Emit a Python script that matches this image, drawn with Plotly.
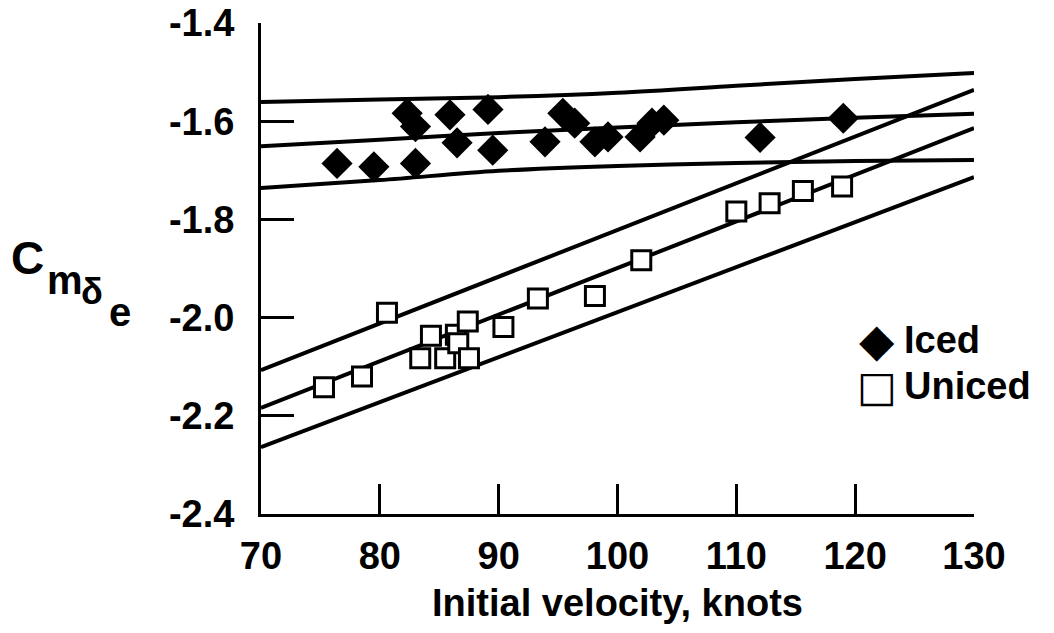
import plotly.graph_objects as go

# Elevator control power vs. initial velocity, iced and uniced tail
iced_v = [76.4, 79.5, 82.3, 83.0, 83.0, 85.9, 86.5, 89.1, 89.5, 93.9,
          95.4, 96.4, 98.1, 99.2, 101.9, 102.9, 103.9, 112.0, 119.0]
iced_cm = [-1.686, -1.693, -1.584, -1.611, -1.686, -1.587, -1.644, -1.576, -1.659, -1.642,
           -1.584, -1.604, -1.642, -1.632, -1.632, -1.604, -1.598, -1.633, -1.594]

uniced_v = [75.3, 78.5, 80.6, 83.4, 84.3, 85.5, 86.4, 86.6, 87.4, 87.5,
            90.4, 93.3, 98.1, 102.0, 110.0, 112.8, 115.6, 118.9]
uniced_cm = [-2.142, -2.120, -1.990, -2.083, -2.037, -2.083, -2.035, -2.052, -2.008, -2.083,
             -2.019, -1.961, -1.956, -1.883, -1.784, -1.767, -1.742, -1.733]

# Fitted curves with their bounds
iced_fit_v = [70, 80, 90, 100, 110, 120, 130]
iced_upper = [-1.561, -1.556, -1.551, -1.542, -1.528, -1.514, -1.502]
iced_mean = [-1.651, -1.638, -1.624, -1.613, -1.602, -1.593, -1.585]
iced_lower = [-1.736, -1.720, -1.701, -1.691, -1.685, -1.681, -1.679]

uniced_fit_v = [70, 130]
uniced_upper = [-2.107, -1.536]
uniced_mean = [-2.184, -1.614]
uniced_lower = [-2.264, -1.714]

x_ticks = [70, 80, 90, 100, 110, 120, 130]
y_ticks = [-2.4, -2.2, -2.0, -1.8, -1.6, -1.4]

FONT = "Liberation Sans"
line_style = dict(color="black", width=4)

fig = go.Figure()

for ys in (iced_upper, iced_mean, iced_lower):
    fig.add_trace(go.Scatter(x=iced_fit_v, y=ys, mode="lines", line=dict(shape="spline", **line_style),
                             showlegend=False, hoverinfo="skip"))
for ys in (uniced_upper, uniced_mean, uniced_lower):
    fig.add_trace(go.Scatter(x=uniced_fit_v, y=ys, mode="lines", line=line_style,
                             showlegend=False, hoverinfo="skip"))

fig.add_trace(go.Scatter(x=iced_v, y=iced_cm, mode="markers", name="Iced",
                         marker=dict(symbol="diamond", size=24, color="black",
                                     line=dict(color="black", width=0)),
                         showlegend=False))
fig.add_trace(go.Scatter(x=uniced_v, y=uniced_cm, mode="markers", name="Uniced",
                         marker=dict(symbol="square", size=19, color="white",
                                     line=dict(color="black", width=3)),
                         showlegend=False))

W, H = 1054, 633
L, R, T, B = 261, 80, 23, 119
pw, ph = W - L - R, H - T - B


def px(x):
    return (x - L) / pw


def py(y):
    return (H - B - y) / ph


ann = []
# y-axis label with cascading subscripts
for txt, x, y, size in (("C", 27, 258, 46), ("m", 65, 280, 40), ("δ", 92, 292, 36), ("e", 120, 312, 40)):
    ann.append(dict(text=txt, x=px(x), y=py(y), xref="paper", yref="paper", showarrow=False,
                    xanchor="center", yanchor="middle",
                    font=dict(family=FONT, size=size, color="black", weight="bold")))

# legend entries
ann.append(dict(text="◆", x=px(877), y=py(340), xref="paper", yref="paper", showarrow=False,
                xanchor="center", yanchor="middle",
                font=dict(family="DejaVu Sans", size=46, color="black")))
ann.append(dict(text="□", x=px(877), y=py(386), xref="paper", yref="paper", showarrow=False,
                xanchor="center", yanchor="middle",
                font=dict(family="DejaVu Sans", size=42, color="black", weight="bold")))
ann.append(dict(text="Iced", x=px(902), y=py(340), xref="paper", yref="paper", showarrow=False,
                xanchor="left", yanchor="middle",
                font=dict(family=FONT, size=38, color="black", weight="bold")))
ann.append(dict(text="Uniced", x=px(902), y=py(386), xref="paper", yref="paper", showarrow=False,
                xanchor="left", yanchor="middle",
                font=dict(family=FONT, size=38, color="black", weight="bold")))

fig.update_layout(
    width=W, height=H,
    margin=dict(l=L, r=R, t=T, b=B),
    paper_bgcolor="white", plot_bgcolor="white",
    showlegend=False,
    annotations=ann,
    xaxis=dict(range=[70, 130], tickvals=x_ticks, ticktext=[str(v) for v in x_ticks],
               automargin=False,
               showgrid=False, zeroline=False, showline=True, linecolor="black", linewidth=3,
               ticks="inside", ticklen=30, tickwidth=3, tickcolor="black",
               ticklabelstandoff=6,
               tickfont=dict(family=FONT, size=38, color="black", weight="bold"),
               title=dict(text="Initial velocity, knots", standoff=14,
                          font=dict(family=FONT, size=38, color="black", weight="bold"))),
    yaxis=dict(range=[-2.4, -1.4], tickvals=y_ticks, ticktext=[f"{v:.1f}" for v in y_ticks],
               automargin=False,
               showgrid=False, zeroline=False, showline=True, linecolor="black", linewidth=3,
               ticks="inside", ticklen=33, tickwidth=3, tickcolor="black",
               ticklabelstandoff=16,
               tickfont=dict(family=FONT, size=38, color="black", weight="bold")),
)

fig.write_html("out.html")
